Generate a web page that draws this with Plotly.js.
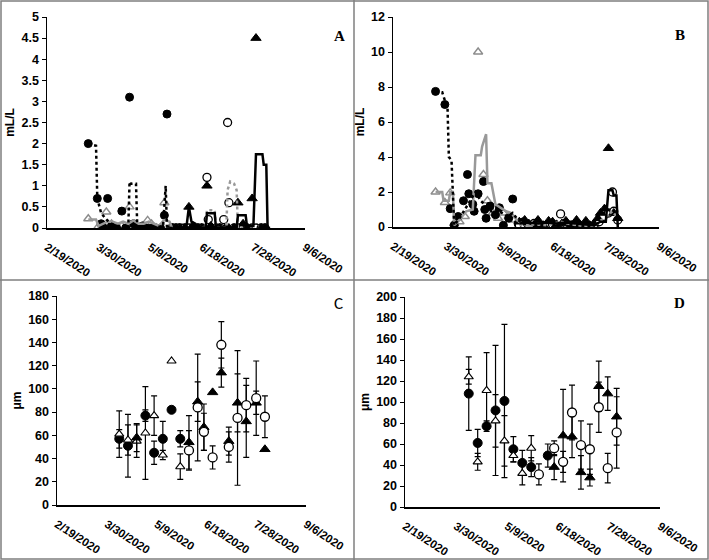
<!DOCTYPE html>
<html>
<head>
<meta charset="utf-8">
<script src="https://cdn.plot.ly/plotly-3.0.1.min.js"></script>
<style>html,body{margin:0;padding:0;background:#fff;}#chart{width:709px;height:560px;}</style>
</head>
<body>
<div id="chart"></div>
<script>
// ---------- shared axis ticks ----------
const xTickVals = ['2020-02-19','2020-03-30','2020-05-09','2020-06-18','2020-07-28','2020-09-06'];
const xTickText = ['2/19/2020','3/30/2020','5/9/2020','6/18/2020','7/28/2020','9/6/2020'];
const xRange = ['2020-02-19','2020-09-06'];

// ---------- Panel A (mL/L) ----------
const aFcDates = ['2020-03-22','2020-03-29','2020-04-01','2020-04-03','2020-04-06','2020-04-09','2020-04-13','2020-04-17','2020-04-20','2020-04-23','2020-04-26','2020-04-29','2020-05-03','2020-05-06','2020-05-10','2020-05-13','2020-05-17','2020-05-20','2020-05-22','2020-05-27','2020-05-31','2020-06-03'];
const aFcVals  = [2.0,0.7,0.1,0,0.7,0.05,0,0.4,0,3.1,0.1,0,0.05,0,0,0,0,0.3,2.7,0,0,0];
const aFcLineDates = ['2020-03-22','2020-03-28','2020-03-29','2020-04-01','2020-04-05','2020-04-09','2020-04-13','2020-04-17','2020-04-22','2020-04-23','2020-04-24','2020-04-28','2020-04-29','2020-05-05','2020-05-12','2020-05-19','2020-05-21','2020-05-22','2020-05-26'];
const aFcLineVals  = [2.0,1.95,0.7,0.35,0.2,0.1,0.05,0.05,0,1.1,1.05,1.05,0,0.02,0,0.05,1.0,0,0];

const aOtDates = ['2020-03-22','2020-03-29','2020-04-01','2020-04-05','2020-04-09','2020-04-13','2020-04-17','2020-04-20','2020-04-23','2020-04-26','2020-04-30','2020-05-03','2020-05-07','2020-05-10','2020-05-14','2020-05-17','2020-05-20','2020-05-24'];
const aOtVals  = [0.22,0,0,0.38,0.1,0,0.05,0,0.5,0.05,0,0,0.18,0.1,0,0,0.6,0];
const aOtLineDates = ['2020-03-22','2020-03-28','2020-03-30','2020-04-02','2020-04-06','2020-04-10','2020-04-14','2020-04-18','2020-04-22','2020-04-26','2020-04-30','2020-05-04','2020-05-08','2020-05-12','2020-05-16','2020-05-20','2020-05-24','2020-05-26'];
const aOtLineVals  = [0.2,0.2,0.05,0.1,0.15,0.15,0.1,0.15,0.1,0.18,0.1,0.1,0.15,0.1,0.05,0.2,0.15,0];

const aFtDates = ['2020-05-26','2020-05-29','2020-06-01','2020-06-05','2020-06-08','2020-06-11','2020-06-15','2020-06-18','2020-06-22','2020-06-25','2020-06-29','2020-07-02','2020-07-06','2020-07-09','2020-07-13','2020-07-16','2020-07-20','2020-07-23','2020-07-27','2020-07-30','2020-08-03','2020-08-06'];
const aFtVals  = [0,0,0,0,0.5,0.05,0,0,1.0,0.05,0,0,0,0,0,0.6,0.1,0,0.7,4.5,0,0];
const aFtLineDates = ['2020-05-26','2020-06-06','2020-06-08','2020-06-10','2020-06-13','2020-06-15','2020-06-21','2020-06-22','2020-06-28','2020-06-29','2020-07-15','2020-07-16','2020-07-22','2020-07-23','2020-07-28','2020-07-30','2020-08-04','2020-08-05','2020-08-07','2020-08-08','2020-08-10'];
const aFtLineVals  = [0,0,0.5,0.15,0.1,0,0,0.35,0.35,0,0,0.3,0.3,0.05,0.05,1.75,1.75,1.5,1.5,0,0];

const aOcDates = ['2020-05-26','2020-05-29','2020-06-01','2020-06-05','2020-06-08','2020-06-11','2020-06-15','2020-06-18','2020-06-22','2020-06-23','2020-06-25','2020-06-29','2020-07-02','2020-07-05','2020-07-08','2020-07-09','2020-07-13','2020-07-16','2020-07-20','2020-07-23','2020-07-27','2020-07-30','2020-08-03','2020-08-06'];
const aOcVals  = [0,0,0,0,0,0,0,0,1.2,0.2,0,0,0,0.2,2.5,0.6,0,0,0,0,0,0,0,0];
const aOcLineDates = ['2020-06-18','2020-06-21','2020-06-22','2020-06-28','2020-06-29','2020-07-07','2020-07-08','2020-07-10','2020-07-13','2020-07-15','2020-07-16','2020-07-20'];
const aOcLineVals  = [0,0,0.42,0.42,0,0,0.9,1.1,1.05,0.9,0,0];

// ---------- Panel B (mL/L) ----------
const bFcDates = ['2020-03-22','2020-03-29','2020-04-02','2020-04-05','2020-04-08','2020-04-12','2020-04-15','2020-04-16','2020-04-19','2020-04-20','2020-04-23','2020-04-27','2020-04-28','2020-04-29','2020-05-02','2020-05-06','2020-05-09','2020-05-12','2020-05-16','2020-05-19','2020-05-23','2020-05-27','2020-05-31','2020-06-04'];
const bFcVals  = [7.75,7.0,1.05,0.1,0.6,1.5,3.0,1.9,1.3,0.9,1.9,2.6,1.0,0.5,1.2,0.7,1.1,0.1,0.5,1.6,0.2,0.3,0.1,0.05];
const bFcLineDates = ['2020-03-22','2020-03-27','2020-03-30','2020-03-31','2020-04-01','2020-04-03','2020-04-05','2020-04-09','2020-04-13','2020-04-17','2020-04-21','2020-04-25','2020-04-29','2020-05-03','2020-05-07','2020-05-11','2020-05-15','2020-05-19','2020-05-23','2020-05-27','2020-05-31'];
const bFcLineVals  = [7.75,7.7,7.0,6.8,4.0,3.8,0.1,0.5,1.0,1.5,2.0,1.5,1.2,0.9,1.0,0.8,0.6,0.8,0.4,0.2,0.1];

const bOtDates = ['2020-03-22','2020-03-29','2020-04-02','2020-04-05','2020-04-09','2020-04-13','2020-04-23','2020-04-27','2020-04-30','2020-05-04','2020-05-08','2020-05-12','2020-05-16','2020-05-20','2020-05-24','2020-05-28'];
const bOtVals  = [2.0,1.4,1.95,0.2,0.3,0.6,10.0,3.0,1.5,0.8,0.5,0.8,0.6,0.4,0.2,0.1];
const bOtLineDates = ['2020-03-22','2020-03-27','2020-03-28','2020-04-01','2020-04-02','2020-04-04','2020-04-05','2020-04-09','2020-04-14','2020-04-19','2020-04-21','2020-04-25','2020-04-26','2020-04-29','2020-04-30','2020-05-03','2020-05-06','2020-05-10','2020-05-14','2020-05-18','2020-05-22','2020-05-26','2020-05-30','2020-06-03'];
const bOtLineVals  = [2.0,2.0,1.5,1.5,2.0,2.0,0.1,0.4,0.9,1.0,4.1,4.1,4.6,5.3,2.5,2.5,1.3,1.1,0.9,0.8,0.4,0.2,0.1,0];

const bFtDates = ['2020-05-24','2020-05-28','2020-05-31','2020-06-04','2020-06-07','2020-06-11','2020-06-15','2020-06-18','2020-06-21','2020-06-25','2020-06-28','2020-07-02','2020-07-06','2020-07-09','2020-07-13','2020-07-16','2020-07-19','2020-07-22','2020-07-24','2020-07-27','2020-07-30','2020-08-03','2020-08-06'];
const bFtVals  = [0.3,0.4,0.2,0.1,0.4,0.1,0.35,0.3,0.15,0.2,0.35,0.1,0.4,0.1,0.35,0.1,0.2,0.5,0.8,1.05,4.5,0.8,0.5];
const bFtLineDates = ['2020-05-24','2020-05-31','2020-06-07','2020-06-14','2020-06-21','2020-06-28','2020-07-05','2020-07-12','2020-07-19','2020-07-24','2020-07-28','2020-07-30','2020-08-02','2020-08-03','2020-08-05','2020-08-06'];
const bFtLineVals  = [0.2,0.25,0.2,0.25,0.2,0.25,0.2,0.15,0.1,0.3,0.3,2.1,2.1,1.8,1.8,0];

const bOcDates = ['2020-05-24','2020-05-28','2020-05-31','2020-06-04','2020-06-07','2020-06-11','2020-06-14','2020-06-18','2020-06-21','2020-06-24','2020-06-25','2020-06-28','2020-07-02','2020-07-05','2020-07-09','2020-07-12','2020-07-16','2020-07-19','2020-07-23','2020-07-26','2020-07-30','2020-08-02','2020-08-03','2020-08-06'];
const bOcVals  = [0.1,0,0.1,0.2,0.1,0.05,0.1,0.15,0,0.75,0,0.2,0.1,0.05,0.05,0,0.05,0.05,0.3,0.6,0.8,2.0,0.9,0.4];
const bOcLineDates = ['2020-05-24','2020-06-04','2020-06-14','2020-06-24','2020-07-02','2020-07-12','2020-07-19','2020-07-23','2020-07-26','2020-07-30','2020-08-02','2020-08-06'];
const bOcLineVals  = [0.1,0.15,0.1,0.3,0.15,0.05,0.05,0.3,0.5,0.7,0.9,0.5];

// ---------- Panel C (µm, mean ± SD) ----------
const cFcDates = ['2020-04-09','2020-04-16','2020-04-30','2020-05-07','2020-05-14','2020-05-21','2020-05-28'];
const cFcVals  = [57,51,77,45,57,82,57];
const cFcErr   = [8,27,5,10,15,0,7];
const cOtDates = ['2020-04-09','2020-04-16','2020-04-23','2020-04-30','2020-05-07','2020-05-14','2020-05-21','2020-05-28'];
const cOtVals  = [61,56,55,62,77,43,124,33];
const cOtErr   = [20,13,14,40,17,4,0,11];
const cFtDates = ['2020-04-23','2020-06-04','2020-06-11','2020-06-16','2020-06-23','2020-06-30','2020-07-06','2020-07-13','2020-07-20','2020-07-28','2020-08-04'];
const cFtVals  = [58,54,89,67,97,114,55,88,72,88,48];
const cFtErr   = [12,23,17,20,0,12.5,12,25,31,10,0];
const cOcDates = ['2020-06-04','2020-06-11','2020-06-16','2020-06-23','2020-06-30','2020-07-06','2020-07-13','2020-07-20','2020-07-28','2020-08-04'];
const cOcVals  = [47,84,63,41,138,50,75,86,92,76];
const cOcErr   = [17,46,16,10,20,13,58,23,32,18];

// ---------- Panel D (µm, mean ± SD) ----------
const dFcDates = ['2020-04-09','2020-04-16','2020-04-23','2020-04-30','2020-05-07','2020-05-14','2020-05-21','2020-05-28','2020-06-10'];
const dFcVals  = [108,61,77,92,101,55,42,38,49];
const dFcErr   = [35,13,5,62,73,12,12,9,11];
const dOtDates = ['2020-04-09','2020-04-16','2020-04-23','2020-04-30','2020-05-07','2020-05-14','2020-05-21','2020-05-28'];
const dOtVals  = [124,43,111,82,63,49,32,56];
const dOtErr   = [7,8,36,25,24,6,11,12];
const dFtDates = ['2020-06-15','2020-06-22','2020-06-29','2020-07-06','2020-07-13','2020-07-20','2020-07-27','2020-08-03'];
const dFtVals  = [38,68,67,33,28,115,108,86];
const dFtErr   = [12,44,20,16,8,24,16,27];
const dOcDates = ['2020-06-03','2020-06-15','2020-06-22','2020-06-29','2020-07-06','2020-07-13','2020-07-20','2020-07-27','2020-08-03'];
const dOcVals  = [31,56,43,90,59,55,95,37,71];
const dOcErr   = [10,7,10,26,23,24,24,14,34];

// ---------- styles ----------
const GRAY = '#8c8c8c';
const mFc = {symbol:'circle', size:8, color:'#000', line:{color:'#000', width:1}};
const mOtAB = {symbol:'triangle-up', size:8, color:'#fff', line:{color:GRAY, width:1.4}};
const mOtCD = {symbol:'triangle-up', size:8, color:'#fff', line:{color:'#000', width:1.1}};
const mFt = {symbol:'triangle-up', size:9, color:'#000', line:{color:'#000', width:1}};
const mOc = {symbol:'circle', size:8, color:'#fff', line:{color:'#000', width:1.3}};
const mFcCD = {symbol:'circle', size:9, color:'#000', line:{color:'#000', width:1}};
const mOcCD = {symbol:'circle', size:9, color:'#fff', line:{color:'#000', width:1.3}};

function pts(x, y, marker, xa, ya, err) {
  const t = {type:'scatter', mode:'markers', x:x, y:y, marker:marker, xaxis:xa, yaxis:ya, hoverinfo:'skip'};
  if (err) t.error_y = {type:'data', array:err, visible:true, color:'#000', thickness:1.2, width:3};
  return t;
}
function ln(x, y, color, dash, xa, ya) {
  return {type:'scatter', mode:'lines', x:x, y:y, line:{color:color, width:2.5, dash:dash}, xaxis:xa, yaxis:ya, hoverinfo:'skip'};
}

const data = [
  pts(aOtDates, aOtVals, mOtAB, 'x', 'y'),
  pts(aFcDates, aFcVals, mFc, 'x', 'y'),
  pts(aOcDates, aOcVals, mOc, 'x', 'y'),
  pts(aFtDates, aFtVals, mFt, 'x', 'y'),
  ln(aOtLineDates, aOtLineVals, '#999', 'solid', 'x', 'y'),
  ln(aOcLineDates, aOcLineVals, '#999', 'dot', 'x', 'y'),
  ln(aFcLineDates, aFcLineVals, '#000', 'dot', 'x', 'y'),
  ln(aFtLineDates, aFtLineVals, '#000', 'solid', 'x', 'y'),

  pts(bOtDates, bOtVals, mOtAB, 'x2', 'y2'),
  pts(bFcDates, bFcVals, mFc, 'x2', 'y2'),
  pts(bOcDates, bOcVals, mOc, 'x2', 'y2'),
  pts(bFtDates, bFtVals, mFt, 'x2', 'y2'),
  ln(bOtLineDates, bOtLineVals, '#999', 'solid', 'x2', 'y2'),
  ln(bOcLineDates, bOcLineVals, '#999', 'dot', 'x2', 'y2'),
  ln(bFcLineDates, bFcLineVals, '#000', 'dot', 'x2', 'y2'),
  ln(bFtLineDates, bFtLineVals, '#000', 'solid', 'x2', 'y2'),

  pts(cFcDates, cFcVals, mFcCD, 'x3', 'y3', cFcErr),
  pts(cOtDates, cOtVals, mOtCD, 'x3', 'y3', cOtErr),
  pts(cFtDates, cFtVals, mFt, 'x3', 'y3', cFtErr),
  pts(cOcDates, cOcVals, mOcCD, 'x3', 'y3', cOcErr),

  pts(dFcDates, dFcVals, mFcCD, 'x4', 'y4', dFcErr),
  pts(dOtDates, dOtVals, mOtCD, 'x4', 'y4', dOtErr),
  pts(dFtDates, dFtVals, mFt, 'x4', 'y4', dFtErr),
  pts(dOcDates, dOcVals, mOcCD, 'x4', 'y4', dOcErr)
];

const W = 709, H = 560;
const px = v => v / W, py = v => 1 - v / H;
const FAM = 'Arial, "Liberation Sans", sans-serif';
const yTickFont = {family:FAM, size:12.5, color:'#000', weight:'bold'};
const xTickFont = {family:FAM, size:11.5, color:'#000', weight:'bold'};

function xax(x0, x1, anchor) {
  return {domain:[px(x0), px(x1)], anchor:anchor, type:'date', range:xRange,
    tickmode:'array', tickvals:xTickVals, ticktext:xTickText, tickangle:33,
    showline:true, linecolor:'#000', linewidth:1.5, ticks:'', showgrid:false, zeroline:false,
    tickfont:xTickFont, ticklabelstandoff:7, fixedrange:true};
}
function yax(y0, y1, anchor, range, dtick, title) {
  return {domain:[py(y1), py(y0)], anchor:anchor, range:range, dtick:dtick, tick0:0,
    showline:true, linecolor:'#000', linewidth:1.5, ticks:'outside', ticklen:4, tickcolor:'#000', tickwidth:1,
    showgrid:false, zeroline:false, tickfont:yTickFont, fixedrange:true,
    title:{text:title, font:{family:FAM, size:12, color:'#000', weight:'bold'}, standoff:4}};
}

const frame = {color:'#7f7f7f', width:1.5};
const layout = {
  width:W, height:H, margin:{l:0, r:0, t:0, b:0}, showlegend:false,
  paper_bgcolor:'#fff', plot_bgcolor:'rgba(0,0,0,0)', hovermode:false,
  xaxis: xax(47, 305, 'y'),
  yaxis: yax(17, 228, 'x', [0,5], 0.5, 'mL/L'),
  xaxis2: xax(393, 659, 'y2'),
  yaxis2: yax(17, 227, 'x2', [0,12], 2, 'mL/L'),
  xaxis3: xax(57, 306, 'y3'),
  yaxis3: yax(296, 505, 'x3', [0,180], 20, 'μm'),
  xaxis4: xax(405, 660, 'y4'),
  yaxis4: yax(297, 507, 'x4', [0,200], 20, 'μm'),
  shapes: [
    {type:'rect', xref:'paper', yref:'paper', x0:px(1), x1:px(708), y0:py(559), y1:py(1), line:frame},
    {type:'line', xref:'paper', yref:'paper', x0:px(354), x1:px(354), y0:0, y1:1, line:frame},
    {type:'line', xref:'paper', yref:'paper', x0:0, x1:1, y0:py(280), y1:py(280), line:frame}
  ],
  annotations: [
    {text:'<b>A</b>', xref:'paper', yref:'paper', x:px(339), y:py(26), showarrow:false, font:{family:'"Liberation Serif", "Times New Roman", serif', size:15, color:'#000'}},
    {text:'<b>B</b>', xref:'paper', yref:'paper', x:px(687), y:py(25), showarrow:false, font:{family:'"Liberation Serif", "Times New Roman", serif', size:15, color:'#000'}},
    {text:'C', xref:'paper', yref:'paper', x:px(338), y:py(303), showarrow:false, font:{family:'Carlito, "Open Sans", sans-serif', size:17, color:'#000'}},
    {text:'<b>D</b>', xref:'paper', yref:'paper', x:px(687), y:py(303), showarrow:false, font:{family:'"Liberation Serif", "Times New Roman", serif', size:15, color:'#000'}}
  ]
};

Plotly.newPlot('chart', data, layout, {staticPlot:true, displayModeBar:false});
</script>
</body>
</html>
